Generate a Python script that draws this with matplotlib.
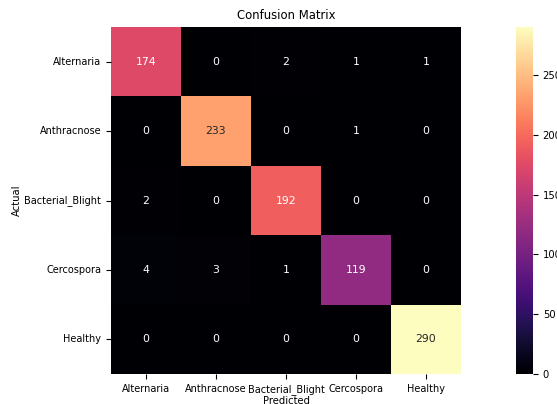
import numpy as np
import matplotlib
matplotlib.use('Agg')
import matplotlib.pyplot as plt
import seaborn as sns

# Class names and confusion matrix counts (rows = actual, cols = predicted)
classes = ['Alternaria', 'Anthracnose', 'Bacterial_Blight', 'Cercospora', 'Healthy']
row_alternaria = [174, 0, 2, 1, 1]
row_anthracnose = [0, 233, 0, 1, 0]
row_bacterial = [2, 0, 192, 0, 0]
row_cercospora = [4, 3, 1, 119, 0]
row_healthy = [0, 0, 0, 0, 290]

cm = np.array([row_alternaria, row_anthracnose, row_bacterial, row_cercospora, row_healthy])

fig = plt.figure(figsize=(5.57, 4.04), dpi=100)
W, H = 557, 404
ax = fig.add_axes([111 / W, (H - 374) / H, 350 / W, 347 / H])
cax = fig.add_axes([516 / W, (H - 374) / H, 17 / W, 347 / H])

sns.heatmap(cm, annot=True, fmt='d', cmap='magma', ax=ax, cbar_ax=cax,
            xticklabels=classes, yticklabels=classes,
            annot_kws={'fontsize': 7.8})

ax.set_title('Confusion Matrix', fontsize=8.4)
ax.set_xlabel('Predicted', fontsize=7.2, labelpad=1)
ax.set_ylabel('Actual', fontsize=7.2, labelpad=2)
ax.tick_params(labelsize=7.0)
ax.set_yticklabels(classes, rotation=0)
ax.set_xticklabels(classes, rotation=0)
cax.tick_params(labelsize=7.2)

plt.savefig('out.png', dpi=100)
